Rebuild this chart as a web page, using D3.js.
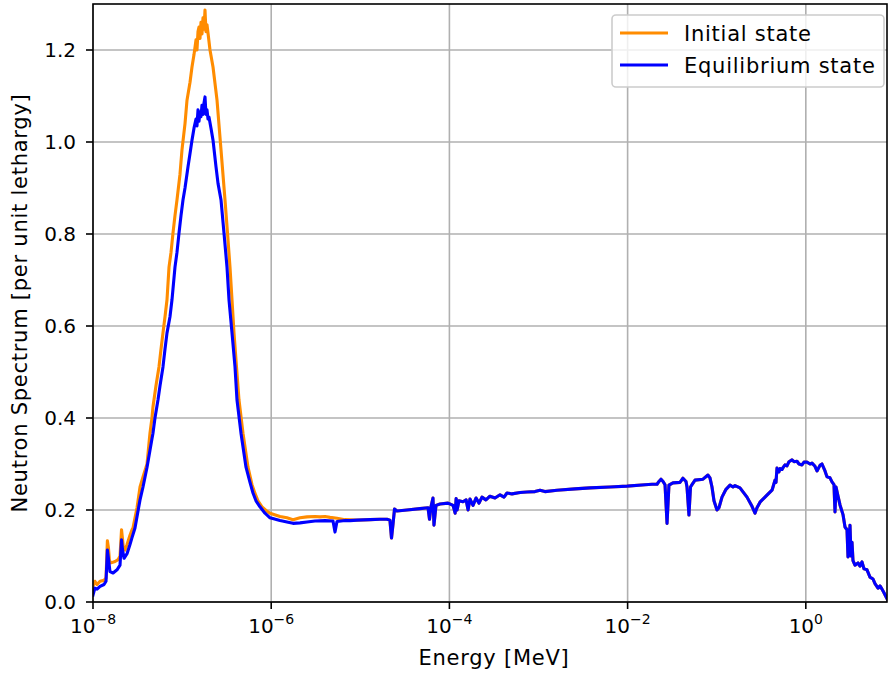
<!DOCTYPE html>
<html><head><meta charset="utf-8">
<script src="https://cdn.jsdelivr.net/npm/d3@7/dist/d3.min.js"></script>
<style>body{margin:0;background:#fff}svg{display:block}</style>
</head><body>
<svg id="chart" width="888" height="675"></svg>
<script>
// ---------- DATA ----------
// Energy in MeV, spectrum per unit lethargy
const initialLowEnergy = [1.00e-8,1.05e-8,1.11e-8,1.20e-8,1.33e-8,1.40e-8,1.45e-8,1.49e-8,1.53e-8,1.59e-8,1.77e-8,1.91e-8,2.01e-8,2.09e-8,2.14e-8,2.20e-8,2.29e-8,2.41e-8,2.60e-8,2.74e-8,2.81e-8,3.12e-8,3.37e-8,3.64e-8,4.04e-8,4.25e-8,4.36e-8,4.59e-8,4.71e-8,5.09e-8,5.50e-8,5.80e-8,6.10e-8,6.43e-8,6.77e-8,7.13e-8,7.51e-8,7.90e-8,8.32e-8,8.76e-8,9.47e-8,9.97e-8,1.078e-7,1.135e-7,1.227e-7,1.291e-7,1.360e-7,1.432e-7,1.469e-7,1.508e-7,1.547e-7,1.588e-7,1.629e-7,1.672e-7,1.716e-7,1.761e-7,1.807e-7,1.854e-7,1.903e-7,1.953e-7,2.056e-7,2.223e-7,2.465e-7,2.733e-7,3.030e-7,3.233e-7,3.448e-7,3.631e-7,3.823e-7,4.079e-7,4.351e-7,4.824e-7,5.490e-7,6.087e-7,6.577e-7,7.107e-7,7.880e-7,8.741e-7,9.693e-7,1.256e-6,1.504e-6,1.756e-6,2.104e-6,2.522e-6,3.101e-6,3.529e-6,4.016e-6,4.569e-6,5.475e-6,6.733e-6];
const initialLowFlux = [0.035,0.045,0.038,0.045,0.047,0.052,0.133,0.118,0.090,0.085,0.088,0.092,0.100,0.157,0.138,0.115,0.113,0.125,0.145,0.157,0.161,0.205,0.250,0.272,0.300,0.345,0.367,0.400,0.424,0.470,0.511,0.550,0.585,0.620,0.657,0.728,0.760,0.802,0.840,0.874,0.930,0.983,1.040,1.091,1.130,1.163,1.190,1.222,1.200,1.240,1.250,1.225,1.260,1.235,1.270,1.245,1.287,1.240,1.255,1.237,1.200,1.163,1.091,0.983,0.874,0.802,0.728,0.657,0.585,0.511,0.439,0.367,0.293,0.255,0.236,0.220,0.207,0.199,0.193,0.186,0.183,0.179,0.183,0.185,0.186,0.185,0.186,0.184,0.182,0.179];

const equilibriumLowEnergy = [1.00e-8,1.05e-8,1.11e-8,1.20e-8,1.33e-8,1.40e-8,1.45e-8,1.49e-8,1.55e-8,1.68e-8,1.86e-8,2.01e-8,2.09e-8,2.14e-8,2.23e-8,2.41e-8,2.60e-8,2.74e-8,2.96e-8,3.37e-8,3.64e-8,4.04e-8,4.36e-8,4.59e-8,4.71e-8,4.96e-8,5.36e-8,5.65e-8,6.10e-8,6.43e-8,6.77e-8,7.31e-8,7.70e-8,8.32e-8,8.76e-8,9.23e-8,9.72e-8,1.023e-7,1.078e-7,1.165e-7,1.227e-7,1.291e-7,1.360e-7,1.432e-7,1.469e-7,1.508e-7,1.547e-7,1.588e-7,1.629e-7,1.672e-7,1.716e-7,1.761e-7,1.807e-7,1.854e-7,1.903e-7,1.953e-7,2.004e-7,2.110e-7,2.223e-7,2.402e-7,2.530e-7,2.733e-7,2.953e-7,3.191e-7,3.360e-7,3.631e-7,3.924e-7,4.132e-7,4.581e-7,5.214e-7,5.781e-7,6.246e-7,6.749e-7,7.483e-7,8.518e-7,9.693e-7,1.256e-6,1.504e-6,1.756e-6,2.104e-6,2.522e-6,3.101e-6,4.016e-6,4.938e-6,5.199e-6,5.475e-6,6.733e-6,7.661e-6];
const equilibriumLowFlux = [0.015,0.030,0.028,0.034,0.038,0.045,0.113,0.095,0.066,0.063,0.070,0.080,0.135,0.115,0.095,0.105,0.125,0.140,0.161,0.222,0.250,0.293,0.330,0.355,0.367,0.400,0.439,0.470,0.511,0.550,0.585,0.620,0.657,0.728,0.760,0.802,0.840,0.874,0.900,0.946,0.975,1.004,1.030,1.050,1.035,1.070,1.045,1.065,1.055,1.080,1.060,1.085,1.098,1.060,1.070,1.050,1.054,1.030,1.004,0.946,0.910,0.874,0.802,0.728,0.657,0.585,0.511,0.439,0.367,0.293,0.260,0.237,0.220,0.207,0.193,0.183,0.177,0.174,0.171,0.172,0.174,0.176,0.177,0.176,0.152,0.175,0.177,0.177];

// above ~1e-5 MeV both states coincide
const sharedHighEnergy = [9.18e-6,1.29e-5,1.66e-5,1.99e-5,2.15e-5,2.24e-5,2.33e-5,2.42e-5,2.58e-5,3.34e-5,4.68e-5,5.75e-5,5.98e-5,6.21e-5,6.54e-5,6.71e-5,7.07e-5,7.84e-5,9.64e-5,1.10e-4,1.16e-4,1.19e-4,1.22e-4,1.28e-4,1.42e-4,1.54e-4,1.62e-4,1.70e-4,1.84e-4,1.99e-4,2.15e-4,2.32e-4,2.57e-4,2.85e-4,3.25e-4,3.70e-4,4.10e-4,4.43e-4,5.04e-4,6.20e-4,7.43e-4,9.13e-4,1.04e-3,1.18e-3,1.61e-3,2.57e-3,3.78e-3,6.34e-3,9.84e-3,1.57e-2,1.88e-2,2.14e-2,2.25e-2,2.37e-2,2.50e-2,2.63e-2,2.77e-2,2.91e-2,3.23e-2,3.87e-2,4.18e-2,4.52e-2,4.64e-2,4.88e-2,5.08e-2,5.28e-2,5.71e-2,7.02e-2,7.98e-2,8.40e-2,8.85e-2,9.32e-2,0.1007,0.1061,0.1146,0.1271,0.141,0.1523,0.1604,0.1825,0.2187,0.2489,0.2689,0.2832,0.3061,0.3483,0.4174,0.4283,0.451,0.4628,0.4749,0.5001,0.5132,0.5404,0.5546,0.584,0.6149,0.6475,0.6998,0.737,0.7961,0.8383,0.906,0.954,1.031,1.114,1.173,1.268,1.335,1.443,1.519,1.642,1.729,1.868,1.967,2.071,2.126,2.182,2.297,2.419,2.614,2.753,2.899,2.975,3.053,3.133,3.214,3.298,3.385,3.564,3.852,4.056,4.271,4.497,4.861,5.252,5.677,5.977,6.459,6.802,7.161,7.541,8.148];
const sharedHighFlux = [0.178,0.179,0.180,0.180,0.178,0.139,0.170,0.202,0.198,0.200,0.203,0.205,0.180,0.207,0.226,0.167,0.210,0.213,0.215,0.210,0.193,0.225,0.200,0.220,0.218,0.222,0.200,0.224,0.210,0.226,0.215,0.228,0.222,0.230,0.226,0.233,0.228,0.237,0.235,0.238,0.239,0.240,0.243,0.240,0.243,0.246,0.248,0.250,0.252,0.255,0.256,0.256,0.262,0.267,0.262,0.255,0.171,0.254,0.259,0.260,0.269,0.262,0.250,0.189,0.250,0.255,0.265,0.267,0.276,0.270,0.250,0.220,0.200,0.205,0.228,0.245,0.254,0.250,0.253,0.248,0.228,0.208,0.193,0.205,0.217,0.228,0.243,0.250,0.265,0.260,0.291,0.283,0.290,0.288,0.292,0.298,0.296,0.305,0.309,0.305,0.306,0.300,0.298,0.304,0.304,0.300,0.302,0.295,0.285,0.297,0.300,0.285,0.272,0.270,0.261,0.255,0.196,0.250,0.230,0.211,0.190,0.163,0.157,0.098,0.130,0.167,0.100,0.130,0.090,0.080,0.085,0.078,0.087,0.072,0.070,0.054,0.050,0.040,0.030,0.035,0.028,0.020,0.007];

const seriesNames = ["Initial state", "Equilibrium state"];
const seriesColors = ["darkorange", "blue"];
const xTickValues = [1e-8, 1e-6, 1e-4, 1e-2, 1];
const xTickExponents = ["\u22128", "\u22126", "\u22124", "\u22122", "0"];
const yTickValues = [0.0, 0.2, 0.4, 0.6, 0.8, 1.0, 1.2];
const xDomain = [1e-8, 8.15];
const yDomain = [0, 1.3];
const xLabel = "Energy [MeV]";
const yLabel = "Neutron Spectrum [per unit lethargy]";

// ---------- LAYOUT ----------
const L = 93, R = 887, T = 4, B = 602;
const FONT = "'DejaVu Sans', sans-serif";
const FS = 20;      // tick labels
const FS2 = 21;     // axis labels & legend
const LS = "0.75px";

const svg = d3.select("#chart");
const x = d3.scaleLog().domain(xDomain).range([L, R]);
const y = d3.scaleLinear().domain(yDomain).range([B, T]);

const toPts = (es, fs) => es.map((e, i) => [e, fs[i]]);
const initialPts = toPts(initialLowEnergy, initialLowFlux).concat(toPts(sharedHighEnergy, sharedHighFlux));
const equilPts = toPts(equilibriumLowEnergy, equilibriumLowFlux).concat(toPts(sharedHighEnergy, sharedHighFlux));

svg.append("defs").append("clipPath").attr("id", "clip")
  .append("rect").attr("x", L).attr("y", T).attr("width", R - L).attr("height", B - T);

// grid
const grid = svg.append("g");
grid.selectAll("line.vx").data(xTickValues).join("line")
  .attr("x1", d => x(d)).attr("x2", d => x(d)).attr("y1", T).attr("y2", B)
  .attr("stroke", "#b0b0b0").attr("stroke-width", 1.6);
grid.selectAll("line.hy").data(yTickValues).join("line")
  .attr("x1", L).attr("x2", R).attr("y1", d => y(d)).attr("y2", d => y(d))
  .attr("stroke", "#b0b0b0").attr("stroke-width", 1.6);

// lines
const line = d3.line().x(d => x(d[0])).y(d => y(d[1]));
const plot = svg.append("g").attr("clip-path", "url(#clip)");
[initialPts, equilPts].forEach((pts, i) => {
  plot.append("path").attr("d", line(pts)).attr("fill", "none")
    .attr("stroke", seriesColors[i]).attr("stroke-width", 3.1)
    .attr("stroke-linejoin", "round").attr("stroke-linecap", "square");
});

// spines
svg.append("rect").attr("x", L).attr("y", T).attr("width", R - L).attr("height", B - T)
  .attr("fill", "none").attr("stroke", "#000").attr("stroke-width", 1.6);

// x axis ticks
const xAxis = svg.append("g");
xTickValues.forEach((v, i) => {
  const px = x(v);
  xAxis.append("line").attr("x1", px).attr("x2", px).attr("y1", B).attr("y2", B + 7)
    .attr("stroke", "#000").attr("stroke-width", 1.6);
  const t = xAxis.append("text").attr("x", px).attr("y", 633)
    .attr("text-anchor", "middle").attr("font-family", FONT).attr("font-size", FS).attr("fill", "#000");
  t.append("tspan").text("10");
  t.append("tspan").attr("dy", -9).attr("font-size", FS * 0.7).text(xTickExponents[i]);
});

// y axis ticks
const yAxis = svg.append("g");
yTickValues.forEach(v => {
  const py = y(v);
  yAxis.append("line").attr("x1", L - 7).attr("x2", L).attr("y1", py).attr("y2", py)
    .attr("stroke", "#000").attr("stroke-width", 1.6);
  yAxis.append("text").attr("x", 76).attr("y", py).attr("dy", "0.36em")
    .attr("text-anchor", "end").attr("font-family", FONT).attr("font-size", FS).attr("fill", "#000")
    .text(d3.format(".1f")(v));
});

// axis labels
svg.append("text").attr("x", (L + R) / 2 + 4).attr("y", 665).attr("text-anchor", "middle")
  .attr("font-family", FONT).attr("font-size", FS2).attr("letter-spacing", LS).attr("fill", "#000").text(xLabel);
svg.append("text").attr("transform", `translate(27,${(T + B) / 2}) rotate(-90)`).attr("text-anchor", "middle")
  .attr("font-family", FONT).attr("font-size", FS2).attr("letter-spacing", LS).attr("fill", "#000").text(yLabel);

// legend
const lg = svg.append("g");
lg.append("rect").attr("x", 612).attr("y", 15).attr("width", 272).attr("height", 72).attr("rx", 4)
  .attr("fill", "#fff").attr("fill-opacity", 0.8).attr("stroke", "#cccccc").attr("stroke-width", 1.6);
seriesNames.forEach((name, i) => {
  const ly = 33 + i * 32;
  lg.append("line").attr("x1", 620).attr("x2", 668).attr("y1", ly).attr("y2", ly)
    .attr("stroke", seriesColors[i]).attr("stroke-width", 3.1);
  lg.append("text").attr("x", 684).attr("y", ly).attr("dy", "0.36em")
    .attr("font-family", FONT).attr("font-size", FS2).attr("letter-spacing", LS).attr("fill", "#000").text(name);
});
</script>
</body></html>
